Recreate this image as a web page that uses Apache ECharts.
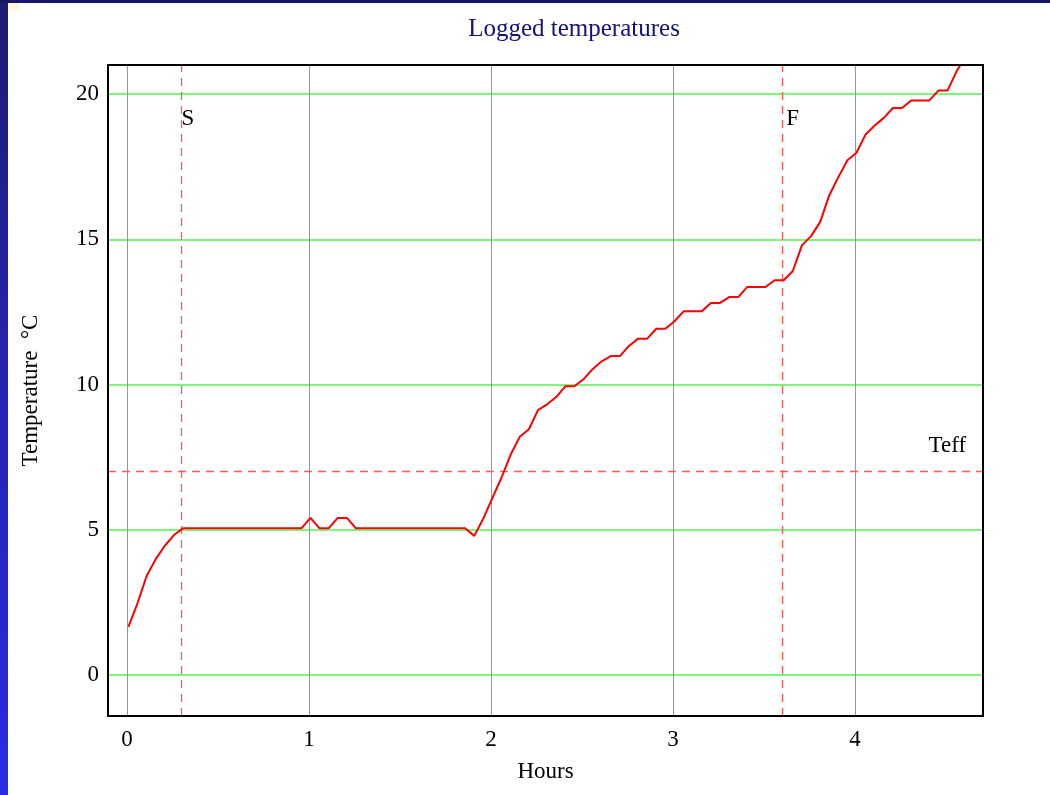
<!DOCTYPE html>
<html lang="en">
<head>
    <meta charset="UTF-8">
    <title>Logged temperatures</title>
    <script src="https://cdn.jsdelivr.net/npm/echarts@6/dist/echarts.min.js"></script>
    <style>
        html, body { margin: 0; padding: 0; width: 1050px; height: 795px; background: #fff; overflow: hidden; }
        #bar-left { position: absolute; left: 0; top: 0; width: 8px; height: 795px;
            background: linear-gradient(to bottom, #1c1c72 0%, #2424b0 45%, #2b2be4 100%); }
        #bar-top { position: absolute; left: 0; top: 0; width: 1050px; height: 3px; background: #16166a; }
        #dot { position: absolute; left: 8px; top: 3px; width: 11px; height: 8px; background: #fff8d8; }
        #chart { position: absolute; left: 0; top: 0; width: 1050px; height: 795px; }
    </style>
</head>
<body>
    <div id="bar-left"></div>
    <div id="bar-top"></div>
    <div id="dot"></div>
    <div id="chart"></div>
    <script>
        // logged time (hours) and temperature (°C), one sample every 3 minutes
        var hours = [
            0.008, 0.058, 0.108, 0.158, 0.208, 0.258, 0.308, 0.358, 0.408, 0.458,
            0.508, 0.558, 0.608, 0.658, 0.708, 0.758, 0.808, 0.858, 0.908, 0.958,
            1.008, 1.058, 1.108, 1.158, 1.208, 1.258, 1.308, 1.358, 1.408, 1.458,
            1.508, 1.558, 1.608, 1.658, 1.708, 1.758, 1.808, 1.858, 1.908, 1.958,
            2.008, 2.058, 2.108, 2.158, 2.208, 2.258, 2.308, 2.358, 2.408, 2.458,
            2.508, 2.558, 2.608, 2.658, 2.708, 2.758, 2.808, 2.858, 2.908, 2.958,
            3.008, 3.058, 3.108, 3.158, 3.208, 3.258, 3.308, 3.358, 3.408, 3.458,
            3.508, 3.558, 3.608, 3.658, 3.708, 3.758, 3.808, 3.858, 3.908, 3.958,
            4.008, 4.058, 4.108, 4.158, 4.208, 4.258, 4.308, 4.358, 4.408, 4.458,
            4.508, 4.558, 4.608
        ];
        var temps = [
            1.66, 2.47, 3.41, 3.99, 4.45, 4.82, 5.05, 5.05, 5.05, 5.05,
            5.05, 5.05, 5.05, 5.05, 5.05, 5.05, 5.05, 5.05, 5.05, 5.05,
            5.41, 5.05, 5.05, 5.41, 5.41, 5.05, 5.05, 5.05, 5.05, 5.05,
            5.05, 5.05, 5.05, 5.05, 5.05, 5.05, 5.05, 5.05, 4.79, 5.39,
            6.10, 6.80, 7.59, 8.20, 8.46, 9.12, 9.32, 9.57, 9.94, 9.94,
            10.18, 10.53, 10.80, 10.98, 10.98, 11.33, 11.58, 11.58, 11.92, 11.92,
            12.18, 12.52, 12.52, 12.52, 12.81, 12.81, 13.01, 13.01, 13.36, 13.36,
            13.36, 13.59, 13.59, 13.91, 14.79, 15.11, 15.59, 16.51, 17.14, 17.72,
            17.98, 18.61, 18.92, 19.18, 19.52, 19.52, 19.78, 19.78, 19.78, 20.12,
            20.12, 20.79, 21.30
        ];
        // marker lines: start, finish, effective temperature
        var startHour = 0.3;
        var finishHour = 3.6;
        var teff = 7;

        var serif = '"Liberation Serif", "DejaVu Serif", serif';

        var seriesData = [];
        for (var i = 0; i < hours.length; i++) {
            seriesData.push([hours[i], temps[i]]);
        }

        // only whole ticks get a label (min/max extents stay blank)
        function intLabel(step) {
            return function (v) {
                var r = Math.round(v / step) * step;
                return Math.abs(v - r) < 1e-6 ? String(r) : '';
            };
        }

        var myChart = echarts.init(document.getElementById('chart'), null, { renderer: 'canvas' });

        var option = {
            backgroundColor: 'transparent',
            animation: false,
            title: {
                text: 'Logged temperatures',
                left: 569,
                top: 12,
                textAlign: 'center',
                textStyle: { color: '#12127a', fontFamily: serif, fontSize: 25, fontWeight: 'normal' }
            },
            grid: {
                left: 108, right: 67, top: 65, bottom: 79,
                show: true,
                z: 10,
                backgroundColor: 'transparent',
                borderColor: '#000',
                borderWidth: 2
            },
            xAxis: {
                type: 'value',
                min: -0.104,
                max: 4.703,
                splitNumber: 5,
                name: 'Hours',
                nameLocation: 'middle',
                nameGap: 44,
                nameTextStyle: { color: '#000', fontFamily: serif, fontSize: 23 },
                axisLine: { show: false },
                axisTick: { show: false },
                axisLabel: { color: '#000', fontFamily: serif, fontSize: 23, margin: 12, formatter: intLabel(1) },
                splitLine: { show: true, lineStyle: { color: '#00ff00', width: 1 } }
            },
            yAxis: {
                type: 'value',
                min: -1.41,
                max: 21.0,
                splitNumber: 5,
                name: 'Temperature  °C',
                nameLocation: 'middle',
                nameGap: 66,
                nameRotate: 90,
                nameTextStyle: { color: '#000', fontFamily: serif, fontSize: 23 },
                axisLine: { show: false },
                axisTick: { show: false },
                axisLabel: { color: '#000', fontFamily: serif, fontSize: 23, margin: 9, formatter: intLabel(5) },
                splitLine: { show: true, lineStyle: { color: '#7cf77c', width: 2 } }
            },
            series: [{
                type: 'line',
                data: seriesData,
                showSymbol: false,
                symbol: 'none',
                clip: true,
                lineStyle: { color: '#ff0000', width: 2 },
                z: 5,
                markLine: {
                    silent: true,
                    symbol: 'none',
                    label: { show: false },
                    lineStyle: { color: '#ff5a5a', width: 1.3, type: [8, 6] },
                    data: [
                        { xAxis: startHour },
                        { xAxis: finishHour },
                        { yAxis: teff }
                    ]
                },
                markPoint: {
                    silent: true,
                    symbol: 'circle',
                    symbolSize: 0,
                    label: {
                        show: true,
                        color: '#000',
                        fontFamily: serif,
                        fontSize: 23,
                        formatter: '{b}'
                    },
                    data: [
                        { name: 'S', coord: [startHour, 19.15], label: { position: 'right', distance: 0 } },
                        { name: 'F', coord: [finishHour, 19.15], label: { position: 'right', distance: 4 } },
                        { name: 'Teff', coord: [4.61, 7.9], label: { position: 'left', distance: 0 } }
                    ]
                }
            }]
        };

        myChart.setOption(option);
    </script>
</body>
</html>
